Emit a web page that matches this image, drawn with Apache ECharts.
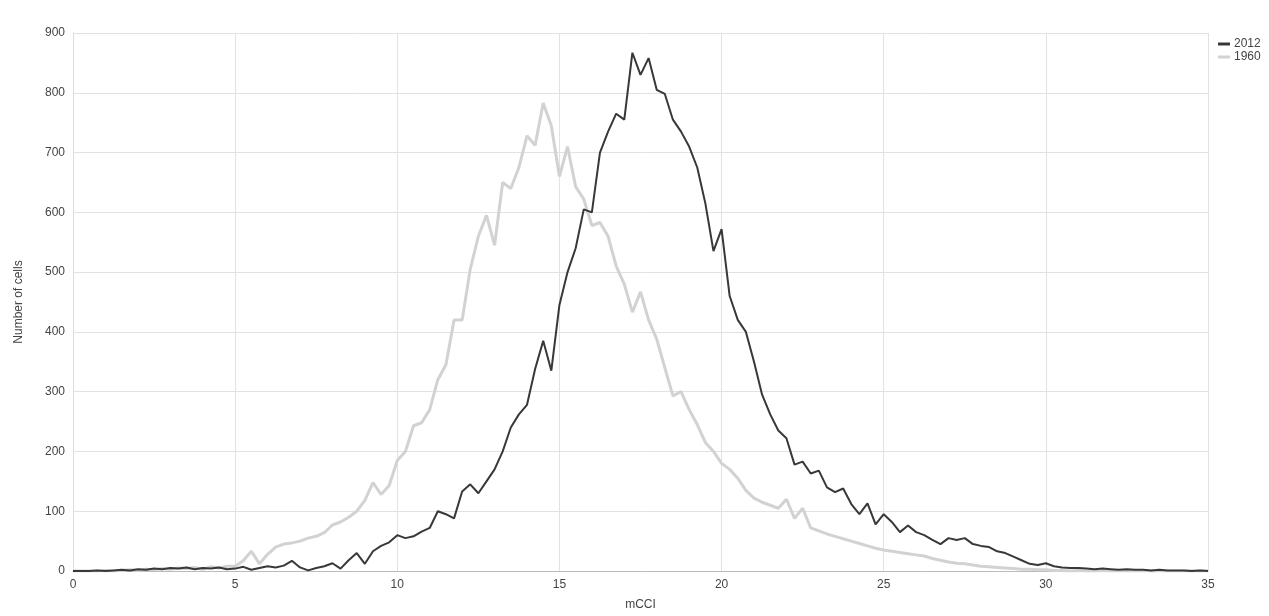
<!DOCTYPE html>
<html>
<head>
<meta charset="utf-8">
<script src="https://cdn.jsdelivr.net/npm/echarts@6/dist/echarts.min.js"></script>
<style>
  html, body { margin: 0; padding: 0; background: #fff; }
  #chart { width: 1269px; height: 616px; }
</style>
</head>
<body>
<div id="chart"></div>
<script>
  // bin positions (mCCI)
  var bins = [
    0, 0.25, 0.5, 0.75, 1, 1.25, 1.5, 1.75, 2, 2.25, 2.5, 2.75, 3, 3.25, 3.5, 3.75,
    4, 4.25, 4.5, 4.75, 5, 5.25, 5.5, 5.75, 6, 6.25, 6.5, 6.75, 7, 7.25, 7.5, 7.75,
    8, 8.25, 8.5, 8.75, 9, 9.25, 9.5, 9.75, 10, 10.25, 10.5, 10.75, 11, 11.25, 11.5, 11.75,
    12, 12.25, 12.5, 12.75, 13, 13.25, 13.5, 13.75, 14, 14.25, 14.5, 14.75, 15, 15.25, 15.5, 15.75,
    16, 16.25, 16.5, 16.75, 17, 17.25, 17.5, 17.75, 18, 18.25, 18.5, 18.75, 19, 19.25, 19.5, 19.75,
    20, 20.25, 20.5, 20.75, 21, 21.25, 21.5, 21.75, 22, 22.25, 22.5, 22.75, 23, 23.25, 23.5, 23.75,
    24, 24.25, 24.5, 24.75, 25, 25.25, 25.5, 25.75, 26, 26.25, 26.5, 26.75, 27, 27.25, 27.5, 27.75,
    28, 28.25, 28.5, 28.75, 29, 29.25, 29.5, 29.75, 30, 30.25, 30.5, 30.75, 31, 31.25, 31.5, 31.75,
    32, 32.25, 32.5, 32.75, 33, 33.25, 33.5, 33.75, 34, 34.25, 34.5, 34.75, 35
  ]

  var cells2012 = [
    0, 0, 0, 1, 0, 1, 2, 1, 3, 2, 4, 3, 5, 4, 6, 3,
    5, 4, 6, 3, 4, 7, 2, 5, 8, 6, 9, 17, 6, 1, 5, 8,
    13, 4, 18, 30, 12, 33, 42, 48, 60, 55, 58, 66, 72, 100, 95, 88,
    133, 145, 130, 150, 170, 200, 240, 262, 278, 338, 385, 335, 445, 500, 540, 605,
    600, 700, 735, 765, 755, 867, 830, 858, 805, 798, 755, 735, 710, 675, 615, 535,
    572, 460, 420, 400, 350, 295, 262, 235, 222, 178, 183, 163, 168, 140, 132, 138,
    112, 95, 113, 78, 95, 82, 65, 76, 65, 60, 52, 45, 55, 52, 55, 45,
    42, 40, 33, 30, 24, 18, 12, 10, 13, 8, 6, 5, 5, 4, 3, 4,
    3, 2, 3, 2, 2, 1, 2, 1, 1, 1, 0, 1, 0
  ]

  var cells1960 = [
    0, 0, 0, 0, 1, 0, 1, 2, 1, 3, 2, 4, 3, 5, 4, 6,
    3, 7, 5, 8, 8, 17, 33, 12, 28, 40, 45, 47, 50, 55, 58, 64,
    77, 82, 90, 100, 118, 148, 128, 143, 185, 200, 243, 248, 270, 320, 345, 420,
    420, 505, 560, 595, 545, 650, 640, 675, 728, 712, 783, 745, 660, 710, 643, 622,
    578, 583, 560, 510, 480, 433, 467, 420, 388, 340, 293, 300, 270, 245, 215, 200,
    180, 170, 155, 135, 122, 115, 110, 105, 120, 88, 105, 72, 67, 62, 58, 54,
    50, 46, 42, 38, 35, 33, 31, 29, 27, 25, 21, 18, 15, 13, 12, 10,
    8, 7, 6, 5, 4, 3, 3, 2, 2, 1, 1, 0, 1, 0, 0, 1,
    0, 0, 0, 0, 0, 0, 0, 0, 0, 0, 0, 0, 0
  ]

  var seriesNames = ['2012', '1960']

  function pairs(ys) {
    return bins.map(function (x, i) { return [x, ys[i]] })
  }

  var chart = echarts.init(document.getElementById('chart'))
  var axisText = { color: '#444', fontFamily: 'Liberation Sans', fontSize: 12 }

  var options = {
    animation: false,
    grid: { left: 73, right: 61, top: 33, bottom: 43 },
    legend: {
      orient: 'vertical',
      left: 1213,
      top: 33,
      itemGap: 1,
      itemWidth: 12,
      itemHeight: 3,
      icon: 'rect',
      textStyle: { color: '#444', fontFamily: 'Liberation Sans', fontSize: 12, padding: [0, 0, 0, -1] },
      data: seriesNames
    },
    xAxis: {
      type: 'value',
      min: 0,
      max: 35,
      interval: 5,
      name: 'mCCI',
      nameLocation: 'middle',
      nameGap: 28,
      nameTextStyle: axisText,
      axisLine: { show: true, lineStyle: { color: '#bbb' } },
      axisTick: { show: false },
      axisLabel: axisText,
      splitLine: { show: true, lineStyle: { color: '#e2e2e2' } }
    },
    yAxis: {
      type: 'value',
      min: 0,
      max: 900,
      interval: 100,
      name: 'Number of cells',
      nameLocation: 'middle',
      nameGap: 48,
      nameTextStyle: axisText,
      axisLine: { show: true, lineStyle: { color: '#ddd' } },
      axisTick: { show: false },
      axisLabel: axisText,
      splitLine: { show: true, lineStyle: { color: '#e2e2e2' } }
    },
    series: [
      {
        name: seriesNames[1],
        type: 'line',
        showSymbol: false,
        symbol: 'none',
        color: '#d2d2d2',
        lineStyle: { width: 3, color: '#d2d2d2' },
        data: pairs(cells1960)
      },
      {
        name: seriesNames[0],
        type: 'line',
        showSymbol: false,
        symbol: 'none',
        color: '#383838',
        lineStyle: { width: 2, color: '#383838' },
        data: pairs(cells2012)
      }
    ]
  }

  chart.setOption(options, true)
</script>
</body>
</html>
